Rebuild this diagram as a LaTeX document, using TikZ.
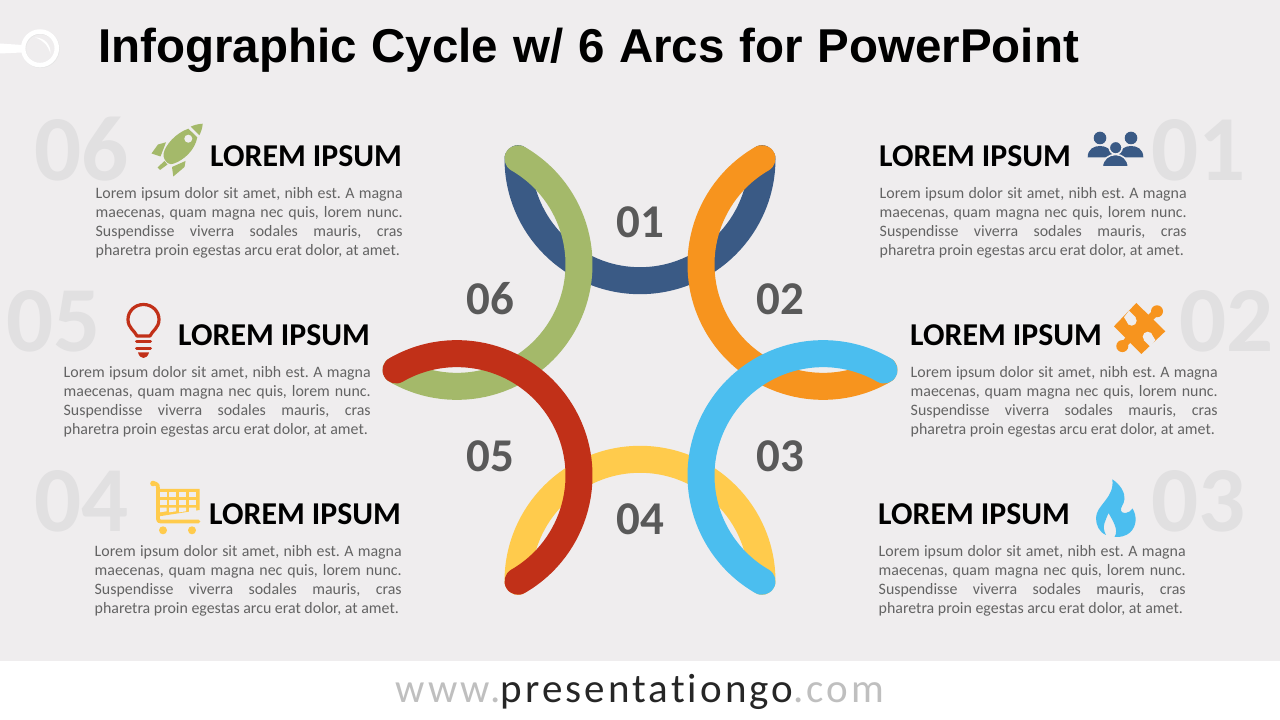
\documentclass[tikz,border=0pt]{standalone}
\usepackage{fontspec}
\setmainfont{Carlito}
\newfontfamily\titlefont[WordSpace=1.12]{Liberation Sans}
\newfontfamily\footfont[LetterSpace=7.5,Ligatures=NoCommon]{Carlito}

\definecolor{pagebg}{HTML}{EFEDEE}
\definecolor{ghostgray}{HTML}{E1E0E1}
\definecolor{numgray}{HTML}{595959}
\definecolor{bodygray}{HTML}{636363}
\definecolor{footgray}{HTML}{BFBFBF}
\definecolor{footdark}{HTML}{262626}
\definecolor{arcblue}{HTML}{3A5A85}
\definecolor{arcorange}{HTML}{F7941E}
\definecolor{arccyan}{HTML}{4BBEEF}
\definecolor{arcyellow}{HTML}{FFCB4C}
\definecolor{arcred}{HTML}{C13018}
\definecolor{arcgreen}{HTML}{A4B96A}

\newcommand{\loremtext}{%
  \begin{minipage}[t]{307pt}\fontsize{15.9}{19}\selectfont\frenchspacing
    \makebox[\linewidth][s]{Lorem ipsum dolor sit amet, nibh est. A magna}\par
    \makebox[\linewidth][s]{maecenas, quam magna nec quis, lorem nunc.}\par
    \makebox[\linewidth][s]{Suspendisse viverra sodales mauris, cras}\par
    pharetra proin egestas arcu erat dolor, at amet.
  \end{minipage}}

\tikzset{
  pagepx/.style={shift={(0,720)}, yscale=-1},
  ringarc/.style={line width=27pt, line cap=round},
  ghostnum/.style={text=ghostgray, font=\fontsize{93}{93}\selectfont\bfseries, inner sep=0pt, anchor=base west},
  hubnum/.style={text=numgray, font=\fontsize{47}{47}\selectfont\bfseries, inner sep=0pt},
  headline/.style={text=black, font=\fontsize{31.8}{31.8}\selectfont\bfseries, inner sep=0pt, anchor=base west},
  bodyline/.style={text=bodygray, inner sep=0pt, anchor=base west},
}

\begin{document}
\begin{tikzpicture}[x=1pt, y=1pt]
  \useasboundingbox (0,0) rectangle (1280,720);
  \fill[white] (0,0) rectangle (1280,720);
  \fill[pagebg] (0,59) rectangle (1280,720);

  % six half circles, in stacking order
  \def\rad{122}
  \coordinate (hub) at (640,350);
  \foreach \v/\col in {120/arcblue, -60/arcyellow, 60/arcorange, 180/arcgreen, 0/arccyan, -120/arcred}
    \draw[ringarc, \col] (hub) ++(\v:244) arc (\v+60:\v+240:\rad);

  \begin{scope}[pagepx]
    % title and footer
    \node[inner sep=0pt, anchor=base west, font=\titlefont\fontsize{47.5}{47.5}\selectfont\bfseries] (title) at (98,63)
      {Infographic Cycle w/ 6 Arcs for PowerPoint};
    \node[inner sep=0pt, anchor=base, font=\footfont\fontsize{41}{41}\selectfont] (site) at (640,703)
      {\textcolor{footgray}{www.}\textcolor{footdark}{presentationgo}\textcolor{footgray}{.com}};

    % hub numbers
    \foreach \tag/\x/\y in {01/640/222, 02/780/299, 03/780/456, 04/640/519, 05/490/456, 06/490/299}
      \node[hubnum] (hub\tag) at (\x,\y) {\tag};

    % the six text blocks
    \foreach \tag/\gx/\gy/\hx/\hy/\bx/\by in {
        06/34/181/210/167/95.5/199,
        05/6/352/178/346/63.5/378,
        04/34/532/209/525/94.5/557,
        01/1151/181/879/167/879.5/199,
        02/1179/352/910/346/910.5/378,
        03/1151/532/878/525/878.5/557} {
      \node[ghostnum] (ghost\tag) at (\gx,\gy) {\tag};
      \node[headline] (head\tag) at (\hx,\hy) {LOREM IPSUM};
      \node[bodyline] (body\tag) at (\bx,\by) {\loremtext};
    }

    % ring mark next to the title
    \draw[black!10, line width=4.5pt] (40.6,48.9) circle (16.8);
    \fill[white] (0,43.5) -- (22,45) -- (22,52.5) -- (0,53.5) -- cycle;
    \draw[white, line width=4.5pt] (40,48.3) circle (16.8);
    \fill[white] (35,37.5) .. controls (44,37.5) and (51,44) .. (50.5,54) .. controls (48,45) and (43,40) .. (35,37.5) -- cycle;

    % rocket
    \fill[arcgreen] (202.7,123.7) .. controls (198,124) and (194,125) .. (190.7,126.7) -- (199.3,135.3) .. controls (201,132) and (202.5,128) .. (202.7,123.7) -- cycle;
    \fill[arcgreen] (188.3,128.7) .. controls (176,133) and (165,145) .. (163.5,154) .. controls (163,157) and (165,161) .. (167.5,163) .. controls (169.5,164.5) and (172,164.5) .. (174,163.5) .. controls (184,160) and (195,150) .. (197.3,137.3) -- cycle;
    \fill[pagebg] (188.3,138.7) circle (4);
    \fill[arcgreen] (166,142.3) -- (158,144.5) -- (151.5,153.5) -- (160.5,156.5) -- cycle;
    \fill[arcgreen] (164.5,161) -- (157.5,167.5) -- (160,170) -- (167.5,164.5) -- cycle;
    \fill[arcgreen] (185.5,161) -- (172,167) -- (173.3,176.5) -- (184.5,167) -- cycle;

    % people
    \fill[arcblue] (1100,138) circle (6.3);
    \fill[arcblue] (1131,138) circle (6.3);
    \fill[arcblue] (1087.7,157.3) .. controls (1087.7,149) and (1094,146) .. (1100,146) .. controls (1106,146) and (1112,149) .. (1112.5,157.3) -- cycle;
    \fill[arcblue] (1118.5,157.3) .. controls (1119,149) and (1125,146) .. (1131,146) .. controls (1137,146) and (1143.3,149) .. (1143.3,157.3) -- cycle;
    \draw[pagebg, line width=1.5pt, fill=arcblue] (1115.7,147.7) circle (6.4);
    \draw[pagebg, line width=1.5pt, fill=arcblue] (1102.3,167) .. controls (1102.3,159) and (1109,154.5) .. (1115.7,154.5) .. controls (1122,154.5) and (1128.3,159) .. (1128.3,167) -- cycle;

    % puzzle piece
    \fill[arcorange] (1136.3,303) -- (1165.3,331.3) -- (1141.3,354) -- (1114,326.3) -- cycle;
    \draw[arcorange, line width=7pt] (1157,311.3) -- (1148,320);
    \draw[arcorange, line width=7pt] (1122.3,346.1) -- (1131,337);
    \fill[arcorange] (1157,311.3) circle (6);
    \fill[arcorange] (1122.3,346.1) circle (6);
    \fill[pagebg] (1124,317.3) -- (1129,310.7) -- (1135.7,317.3) -- (1128.7,324.7) -- cycle;
    \fill[pagebg] (1131.7,320.7) circle (5);
    \fill[pagebg] (1155.4,340.1) -- (1150.4,346.7) -- (1143.7,340.1) -- (1150.7,332.7) -- cycle;
    \fill[pagebg] (1147.7,336.7) circle (5);

    % light bulb
    \draw[arcred, line width=3.2pt, line join=round] (137,336) .. controls (135,331) and (128,328) .. (128,319.5) .. controls (128,311) and (135,304.5) .. (143.5,304.5) .. controls (152,304.5) and (159,311) .. (159,319.5) .. controls (159,328) and (152,331) .. (150,336) -- cycle;
    \draw[arcred, line width=3pt, line cap=round] (136.5,342) -- (150.5,342);
    \draw[arcred, line width=3pt, line cap=round] (136.5,349) -- (150.5,349);
    \fill[arcred] (138,352.5) -- (149,352.5) .. controls (148,356) and (146,358) .. (143.5,358) .. controls (141,358) and (139,356) .. (138,352.5) -- cycle;

    % cart
    \fill[arcyellow] (158,489) -- (199.5,489) -- (199.5,510) -- (158,516.5) -- cycle;
    \foreach \cx in {159.7, 169, 179, 189} {
      \fill[pagebg] (\cx,492) rectangle ++(7,5);
      \fill[pagebg] (\cx,499.7) rectangle ++(7,5);
      \fill[pagebg] (\cx,507.6) -- ++(7,0) -- ++(0,3.7) -- ++(-7,1) -- cycle;
    }
    \draw[arcyellow, line width=3.8pt, line cap=round, line join=round] (153.5,483.5) -- (155.5,483.5) .. controls (158,484) and (158,486) .. (158,489) -- (158,519) .. controls (158,521) and (159,521.5) .. (161,521.5) -- (198.5,521.5);
    \fill[arcyellow] (153,483.5) circle (2.8);
    \fill[arcyellow] (163,530.3) circle (4);
    \fill[arcyellow] (192,530.3) circle (4);

    % flame
    \fill[arccyan] (1112.3,479.3) .. controls (1121,485) and (1125,493) .. (1124.5,499) .. controls (1124,505) and (1120,507) .. (1121,511) .. controls (1122,514) and (1129,514) .. (1132.5,508.5) .. controls (1137,516) and (1137,526) .. (1130,532.5) .. controls (1126,536) and (1120,537.5) .. (1114.5,537) .. controls (1119,530) and (1113,521) .. (1108.5,513) .. controls (1106,520) and (1101,526) .. (1106,535) .. controls (1099,532) and (1096,525) .. (1096,518) .. controls (1096,505) and (1115,498) .. (1112.3,479.3) -- cycle;
  \end{scope}
\end{tikzpicture}
\end{document}
